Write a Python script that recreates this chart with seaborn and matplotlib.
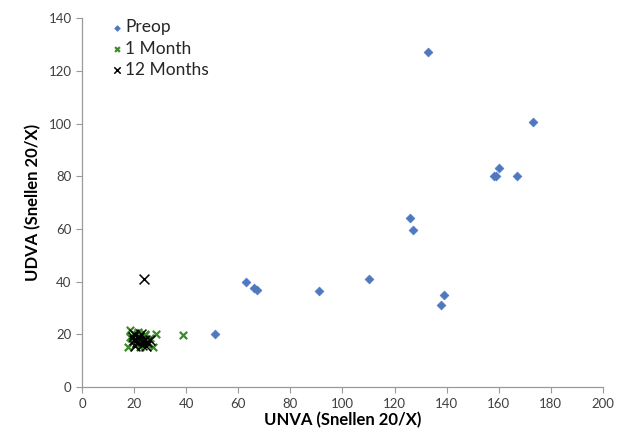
import matplotlib
matplotlib.use("Agg")
import matplotlib.pyplot as plt
import seaborn as sns
import pandas as pd

sns.set_theme(style="white")
plt.rcParams['font.family'] = ['Lato', 'DejaVu Sans']

preop_x = [51, 63, 66, 67, 91, 110, 126, 127, 133, 138, 139, 158, 159, 160, 167, 173]
preop_y = [20, 40, 37.5, 37, 36.5, 41, 64, 59.5, 127, 31, 35, 80, 80, 83, 80, 100.5]

m1_x = [18.4, 17.8, 28.4, 27.1, 38.9, 24.2, 22.3, 20, 21, 19, 23, 25, 20.5, 26, 22, 24, 18.5, 21.5]
m1_y = [21.6, 15.3, 20.1, 15.3, 19.8, 19.7, 15.2, 18, 20, 17, 17.5, 16.5, 16, 18.5, 19, 20, 19, 21]

m12_x = [23.8, 20, 21, 22, 23, 24, 25, 19.5, 20.5, 22.5, 24.5, 21.5, 26, 23.5, 20]
m12_y = [40.9, 18, 17, 19, 16, 18, 17, 19, 15.5, 20, 15.5, 18.5, 18, 17.5, 20]

fig, ax = plt.subplots(figsize=(6.19, 4.34), dpi=100)
fig.subplots_adjust(left=0.1325, right=0.974, bottom=0.108, top=0.958)

df_p = pd.DataFrame({"x": preop_x, "y": preop_y})
df_1 = pd.DataFrame({"x": m1_x, "y": m1_y})
df_12 = pd.DataFrame({"x": m12_x, "y": m12_y})

sns.scatterplot(data=df_p, x="x", y="y", ax=ax, marker="D", s=20, color="#4f78bf",
                edgecolor="#4f78bf", linewidth=0.5, label="Preop", zorder=3)
sns.scatterplot(data=df_1, x="x", y="y", ax=ax, marker="x", s=28, color="#3b8a26",
                linewidth=1.6, label="1 Month", zorder=3)
sns.scatterplot(data=df_12, x="x", y="y", ax=ax, marker="x", s=50, color="black",
                linewidth=1.1, label="12 Months", zorder=4)

ax.set_xlim(0, 200)
ax.set_ylim(0, 140)
ax.set_xticks(range(0, 201, 20))
ax.set_yticks(range(0, 141, 20))
ax.tick_params(axis='both', labelsize=9.5, colors='#404040', length=4, width=0.8,
               direction='out', bottom=True, left=True)
for sp in ['top', 'right']:
    ax.spines[sp].set_visible(False)
for sp in ['left', 'bottom']:
    ax.spines[sp].set_color('#9a9a9a')
    ax.spines[sp].set_linewidth(0.9)
ax.tick_params(color='#9a9a9a')

ax.set_xlabel("UNVA (Snellen 20/X)", fontsize=12, fontweight='bold', color='black', labelpad=2)
ax.set_ylabel("UDVA (Snellen 20/X)", fontsize=12, fontweight='bold', color='black', labelpad=5)

leg = ax.legend(loc='upper left', bbox_to_anchor=(0.03, 1.025), frameon=False, fontsize=12.5,
                handletextpad=0.0, handlelength=1.0, labelspacing=0.3, borderaxespad=0.2,
                markerscale=0.65)

fig.savefig("out.png", dpi=100)
